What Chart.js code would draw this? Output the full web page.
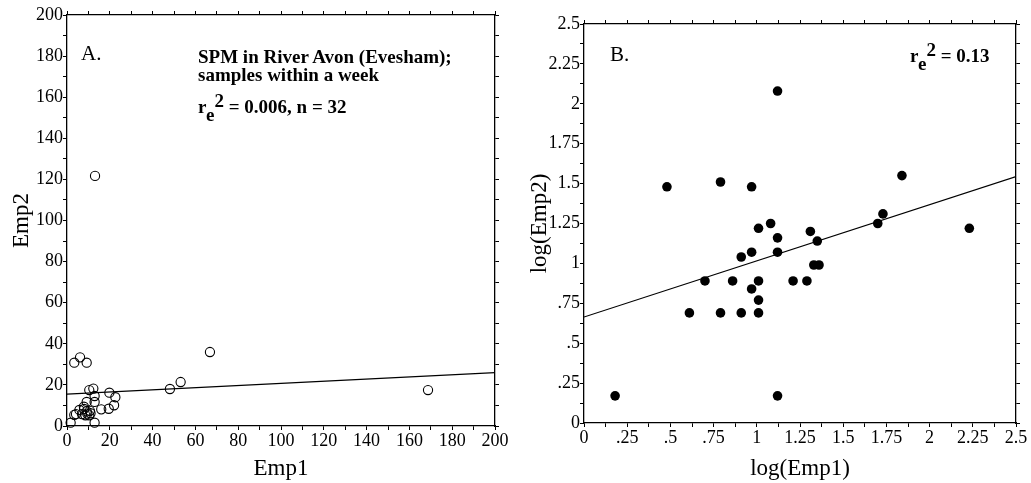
<!DOCTYPE html>
<html>
<head>
<meta charset="utf-8">
<script src="https://cdn.jsdelivr.net/npm/chart.js@4"></script>
<style>
body { margin:0; background:#fff; }
#wrap { position:relative; width:1031px; height:483px; }
canvas { position:absolute; top:0; }
#cA { left:0; }
#cB { left:515px; }
.note { position:absolute; font-family:'Liberation Serif', serif; color:#000; white-space:nowrap; }
.bold { font-weight:bold; font-size:19px; line-height:18px; }
.panel { font-size:21px; line-height:21px; }
.lo { position:relative; top:8px; }
.hi { position:relative; top:-6px; }
</style>
</head>
<body>
<div id="wrap">
  <canvas id="cA" width="515" height="483"></canvas>
  <canvas id="cB" width="516" height="483"></canvas>
  <div class="note panel" style="left:81px; top:43px;">A.</div>
  <div class="note bold" style="left:198px; top:48px;">SPM in River Avon (Evesham);<br>samples within a week</div>
  <div class="note bold" style="left:198px; top:98px;">r<span class="lo">e</span><span class="hi">2</span> = 0.006, n = 32</div>
  <div class="note panel" style="left:610px; top:44px;">B.</div>
  <div class="note bold" style="left:910px; top:47px;">r<span class="lo">e</span><span class="hi">2</span> = 0.13</div>
</div>
<script>
// panel A: raw values
const emp1 = [3.4, 6.1, 9.2, 1.7, 12.9, 13.1, 48.1, 53.1, 66.8, 168.7, 10.4, 12.3, 12.9, 12.9, 19.8, 22.6,
  22.0, 19.5, 16.0, 9.2, 7.9, 4.2, 5.8, 7.0, 9.2, 10.7, 8.6, 10.4, 3.4, 9.5, 8.0, 11.0];
const emp2 = [30.8, 33.4, 30.8, 1.6, 1.6, 121.7, 18.0, 21.4, 36.0, 17.5, 17.5, 18.2, 14.6, 11.7, 16.2, 14.0,
  10.1, 8.4, 8.1, 11.7, 9.4, 5.8, 7.8, 5.8, 7.1, 7.4, 5.2, 5.2, 5.4, 6.0, 8.3, 6.2];
const fitAx = [0, 200];
const fitAy = [15.5, 26];

// panel B: log values
const logEmp1 = [0.18, 1.12, 0.61, 0.79, 0.91, 1.01, 1.01, 0.97, 0.70, 0.86, 1.01, 1.21, 1.29, 0.97, 0.91, 1.12,
  1.12, 1.01, 1.08, 1.31, 1.35, 1.33, 1.36, 0.48, 0.79, 0.97, 1.12, 1.70, 1.73, 1.84, 2.23];
const logEmp2 = [0.17, 0.17, 0.69, 0.69, 0.69, 0.69, 0.77, 0.84, 0.89, 0.89, 0.89, 0.89, 0.89, 1.07, 1.04, 1.07,
  1.16, 1.22, 1.25, 1.20, 1.14, 0.99, 0.99, 1.48, 1.51, 1.48, 2.08, 1.25, 1.31, 1.55, 1.22];
const fitBx = [0, 2.5];
const fitBy = [0.664, 1.544];

const FONT = "'Liberation Serif', serif";
const pts = (xs, ys) => xs.map((x, i) => ({ x: x, y: ys[i] }));

function axis(pos, min, max, step, labelEvery, fmt, size, title, titlePad) {
  const shown = pos === 'left' || pos === 'bottom';
  return {
    type: 'linear', position: pos, min: min, max: max,
    grid: { drawOnChartArea: false, drawTicks: true, tickLength: 4, color: '#000', lineWidth: 1 },
    border: { display: true, color: '#000', width: 1.3 },
    ticks: {
      display: shown, stepSize: step, autoSkip: false, maxRotation: 0, padding: 0,
      color: '#000', font: { family: FONT, size: 18 },
      callback: v => (Math.abs(v / labelEvery - Math.round(v / labelEvery)) < 1e-6 ? fmt(v) : '')
    },
    title: title ? { display: true, text: title, color: '#000', font: { family: FONT, size: 23 },
      padding: titlePad } : { display: false },
    afterFit: s => { if (s.isHorizontal()) s.height = size; else s.width = size; }
  };
}

function makeChart(id, datasets, xs, ys) {
  return new Chart(document.getElementById(id), {
    type: 'scatter',
    data: { datasets: datasets },
    options: {
      responsive: false, animation: false, devicePixelRatio: 1,
      layout: { padding: 0 },
      plugins: { legend: { display: false }, tooltip: { enabled: false } },
      scales: Object.assign({}, xs, ys)
    }
  });
}

const plain = v => String(v);
const noLead = v => (v === 0 ? '0' : String(v).replace(/^0\./, '.'));

makeChart('cA', [
  { data: pts(emp1, emp2), pointStyle: 'circle', pointRadius: 4.6, borderColor: '#000', borderWidth: 1.1,
    backgroundColor: 'rgba(0,0,0,0)', clip: false },
  { type: 'line', data: pts(fitAx, fitAy), borderColor: '#000', borderWidth: 1.2, pointRadius: 0, showLine: true }
], {
  x: axis('bottom', 0, 200, 10, 20, plain, 57, 'Emp1', { top: 0, bottom: 0 }),
  x2: axis('top', 0, 200, 10, 20, plain, 15)
}, {
  y: axis('left', 0, 200, 10, 20, plain, 67, 'Emp2', { top: 8, bottom: 0 }),
  y2: axis('right', 0, 200, 10, 20, plain, 20)
});

makeChart('cB', [
  { data: pts(logEmp1, logEmp2), pointStyle: 'circle', pointRadius: 4.8, borderColor: '#000', borderWidth: 0,
    backgroundColor: '#000', clip: false },
  { type: 'line', data: pts(fitBx, fitBy), borderColor: '#000', borderWidth: 1.2, pointRadius: 0, showLine: true }
], {
  x: axis('bottom', 0, 2.5, 0.125, 0.25, noLead, 60, 'log(Emp1)', { top: 0, bottom: 0 }),
  x2: axis('top', 0, 2.5, 0.125, 0.25, noLead, 24)
}, {
  y: axis('left', 0, 2.5, 0.125, 0.25, noLead, 69, 'log(Emp2)', { top: 11, bottom: 0 }),
  y2: axis('right', 0, 2.5, 0.125, 0.25, noLead, 15)
});
</script>
</body>
</html>
